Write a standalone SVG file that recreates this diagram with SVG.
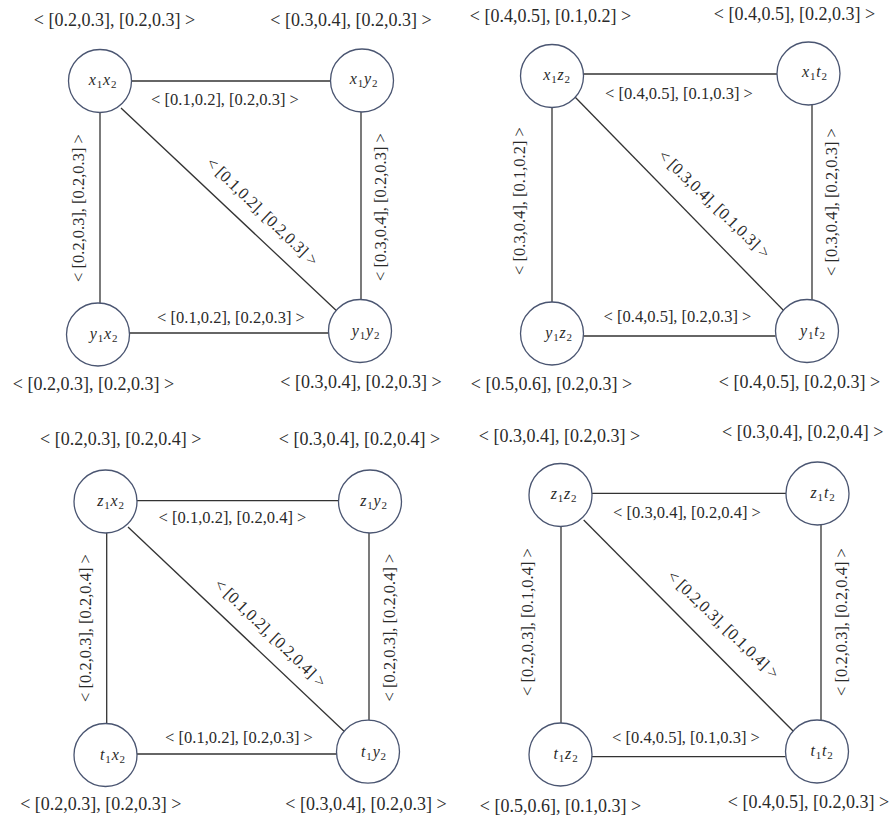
<svg xmlns="http://www.w3.org/2000/svg" width="894" height="821" viewBox="0 0 894 821">
<style>
.bg{fill:#ffffff}
circle{fill:#ffffff;stroke:#4a5571;stroke-width:1.3}
line{stroke:#333333;stroke-width:1.3}
.lb{font-family:"Liberation Serif",serif;font-size:18px;fill:#2a2a2a;text-anchor:middle}
.el{font-family:"Liberation Serif",serif;font-size:16.5px;fill:#2a2a2a;text-anchor:middle}
.nm{font-family:"Liberation Serif",serif;font-size:16px;font-style:italic;fill:#2a2a2a;text-anchor:middle;letter-spacing:0.8px}
.sb{font-size:11px;font-style:normal}
</style>
<rect class="bg" x="0" y="0" width="894" height="821"/>
<g id="connectors">
<!-- Q1 -->
<line x1="131.5" y1="81" x2="330" y2="81"/>
<line x1="100" y1="112.5" x2="100" y2="303"/>
<line x1="361" y1="112" x2="361" y2="300"/>
<line x1="129.5" y1="333" x2="328.5" y2="333"/>
<line x1="121" y1="108" x2="340" y2="314"/>
<text class="el" x="225" y="105">&lt; [0.1,0.2], [0.2,0.3] &gt;</text>
<text class="el" x="84" y="208" transform="rotate(-90 84 208)">&lt; [0.2,0.3], [0.2,0.3] &gt;</text>
<text class="el" x="386" y="207" transform="rotate(-90 386 207)">&lt; [0.3,0.4], [0.2,0.3] &gt;</text>
<text class="el" x="231" y="323">&lt; [0.1,0.2], [0.2,0.3] &gt;</text>
<text class="el" x="258.5" y="215.6" transform="rotate(44 258.5 215.6)">&lt; [0.1,0.2], [0.2,0.3] &gt;</text>
<!-- Q2 -->
<line x1="583.5" y1="74" x2="777" y2="74"/>
<line x1="552" y1="107.5" x2="552" y2="302"/>
<line x1="812" y1="105" x2="812" y2="300"/>
<line x1="583.5" y1="336" x2="775.5" y2="336"/>
<line x1="575" y1="97" x2="786" y2="313"/>
<text class="el" x="679" y="99">&lt; [0.4,0.5], [0.1,0.3] &gt;</text>
<text class="el" x="525" y="201" transform="rotate(-90 525 201)">&lt; [0.3,0.4], [0.1,0.2] &gt;</text>
<text class="el" x="837" y="202" transform="rotate(-90 837 202)">&lt; [0.3,0.4], [0.2,0.3] &gt;</text>
<text class="el" x="677.5" y="322">&lt; [0.4,0.5], [0.2,0.3] &gt;</text>
<text class="el" x="710.5" y="208" transform="rotate(44 710.5 208)">&lt; [0.3,0.4], [0.1,0.3] &gt;</text>
<!-- Q3 -->
<line x1="137" y1="500.7" x2="338.5" y2="500.7"/>
<line x1="106.7" y1="533" x2="106.7" y2="723.5"/>
<line x1="369" y1="533" x2="369" y2="720"/>
<line x1="137" y1="754" x2="337" y2="754"/>
<line x1="128" y1="527" x2="348" y2="735"/>
<text class="el" x="232.5" y="523">&lt; [0.1,0.2], [0.2,0.4] &gt;</text>
<text class="el" x="91" y="628" transform="rotate(-90 91 628)">&lt; [0.2,0.3], [0.2,0.4] &gt;</text>
<text class="el" x="395" y="627.5" transform="rotate(-90 395 627.5)">&lt; [0.2,0.3], [0.2,0.4] &gt;</text>
<text class="el" x="239" y="743">&lt; [0.1,0.2], [0.2,0.3] &gt;</text>
<text class="el" x="266.5" y="637" transform="rotate(44 266.5 637)">&lt; [0.1,0.2], [0.2,0.4] &gt;</text>
<!-- Q4 -->
<line x1="592" y1="493.3" x2="786" y2="493.3"/>
<line x1="561" y1="526.5" x2="561" y2="723"/>
<line x1="821" y1="525" x2="821" y2="720"/>
<line x1="592" y1="756.7" x2="785.5" y2="756.7"/>
<line x1="583.7" y1="520" x2="795.3" y2="733.3"/>
<text class="el" x="687" y="518">&lt; [0.3,0.4], [0.2,0.4] &gt;</text>
<text class="el" x="533" y="622" transform="rotate(-90 533 622)">&lt; [0.2,0.3], [0.1,0.4] &gt;</text>
<text class="el" x="847" y="622" transform="rotate(-90 847 622)">&lt; [0.2,0.3], [0.2,0.4] &gt;</text>
<text class="el" x="686" y="743">&lt; [0.4,0.5], [0.1,0.3] &gt;</text>
<text class="el" x="719.5" y="628.6" transform="rotate(44 719.5 628.6)">&lt; [0.2,0.3], [0.1,0.4] &gt;</text>
</g>
<!-- Q1 nodes -->
<g id="x1x2"><circle cx="100" cy="81" r="31.5"/><text class="nm" x="103" y="85">x<tspan class="sb" dy="3">1</tspan><tspan dy="-3">x</tspan><tspan class="sb" dy="3">2</tspan></text><text class="lb" x="114.5" y="26">&lt; [0.2,0.3], [0.2,0.3] &gt;</text></g>
<g id="x1y2"><circle cx="362" cy="80.5" r="31.5"/><text class="nm" x="364" y="84">x<tspan class="sb" dy="3">1</tspan><tspan dy="-3">y</tspan><tspan class="sb" dy="3">2</tspan></text><text class="lb" x="351" y="26">&lt; [0.3,0.4], [0.2,0.3] &gt;</text></g>
<g id="y1x2"><circle cx="98" cy="334.5" r="31.5"/><text class="nm" x="104" y="339">y<tspan class="sb" dy="3">1</tspan><tspan dy="-3">x</tspan><tspan class="sb" dy="3">2</tspan></text><text class="lb" x="93.5" y="390">&lt; [0.2,0.3], [0.2,0.3] &gt;</text></g>
<g id="y1y2"><circle cx="360" cy="331" r="31.5"/><text class="nm" x="366" y="336">y<tspan class="sb" dy="3">1</tspan><tspan dy="-3">y</tspan><tspan class="sb" dy="3">2</tspan></text><text class="lb" x="361" y="388">&lt; [0.3,0.4], [0.2,0.3] &gt;</text></g>
<!-- Q2 nodes -->
<g id="x1z2"><circle cx="552" cy="76" r="31.5"/><text class="nm" x="557" y="80">x<tspan class="sb" dy="3">1</tspan><tspan dy="-3">z</tspan><tspan class="sb" dy="3">2</tspan></text><text class="lb" x="550.5" y="22">&lt; [0.4,0.5], [0.1,0.2] &gt;</text></g>
<g id="x1t2"><circle cx="808.5" cy="73.5" r="31.5"/><text class="nm" x="815" y="77">x<tspan class="sb" dy="3">1</tspan><tspan dy="-3">t</tspan><tspan class="sb" dy="3">2</tspan></text><text class="lb" x="794.5" y="20">&lt; [0.4,0.5], [0.2,0.3] &gt;</text></g>
<g id="y1z2"><circle cx="552" cy="333.5" r="31.5"/><text class="nm" x="559" y="338">y<tspan class="sb" dy="3">1</tspan><tspan dy="-3">z</tspan><tspan class="sb" dy="3">2</tspan></text><text class="lb" x="551.5" y="390">&lt; [0.5,0.6], [0.2,0.3] &gt;</text></g>
<g id="y1t2"><circle cx="807" cy="331" r="31.5"/><text class="nm" x="813" y="336">y<tspan class="sb" dy="3">1</tspan><tspan dy="-3">t</tspan><tspan class="sb" dy="3">2</tspan></text><text class="lb" x="799.5" y="388">&lt; [0.4,0.5], [0.2,0.3] &gt;</text></g>
<!-- Q3 nodes -->
<g id="z1x2"><circle cx="105.5" cy="501.5" r="31.5"/><text class="nm" x="111" y="506">z<tspan class="sb" dy="3">1</tspan><tspan dy="-3">x</tspan><tspan class="sb" dy="3">2</tspan></text><text class="lb" x="120.7" y="445">&lt; [0.2,0.3], [0.2,0.4] &gt;</text></g>
<g id="z1y2"><circle cx="370" cy="501.5" r="31.5"/><text class="nm" x="374" y="506">z<tspan class="sb" dy="3">1</tspan><tspan dy="-3">y</tspan><tspan class="sb" dy="3">2</tspan></text><text class="lb" x="359.5" y="445">&lt; [0.3,0.4], [0.2,0.4] &gt;</text></g>
<g id="t1x2"><circle cx="105.5" cy="755" r="31.5"/><text class="nm" x="113" y="760">t<tspan class="sb" dy="3">1</tspan><tspan dy="-3">x</tspan><tspan class="sb" dy="3">2</tspan></text><text class="lb" x="100.8" y="810">&lt; [0.2,0.3], [0.2,0.3] &gt;</text></g>
<g id="t1y2"><circle cx="368" cy="751.7" r="31.5"/><text class="nm" x="374" y="757">t<tspan class="sb" dy="3">1</tspan><tspan dy="-3">y</tspan><tspan class="sb" dy="3">2</tspan></text><text class="lb" x="366" y="810">&lt; [0.3,0.4], [0.2,0.3] &gt;</text></g>
<!-- Q4 nodes -->
<g id="z1z2"><circle cx="560.5" cy="495" r="31.5"/><text class="nm" x="564" y="499">z<tspan class="sb" dy="3">1</tspan><tspan dy="-3">z</tspan><tspan class="sb" dy="3">2</tspan></text><text class="lb" x="559.5" y="442">&lt; [0.3,0.4], [0.2,0.3] &gt;</text></g>
<g id="z1t2"><circle cx="817.5" cy="493.5" r="31.5"/><text class="nm" x="823" y="498">z<tspan class="sb" dy="3">1</tspan><tspan dy="-3">t</tspan><tspan class="sb" dy="3">2</tspan></text><text class="lb" x="802.7" y="438">&lt; [0.3,0.4], [0.2,0.4] &gt;</text></g>
<g id="t1z2"><circle cx="560.5" cy="754.5" r="31.5"/><text class="nm" x="566" y="759">t<tspan class="sb" dy="3">1</tspan><tspan dy="-3">z</tspan><tspan class="sb" dy="3">2</tspan></text><text class="lb" x="560.5" y="812">&lt; [0.5,0.6], [0.1,0.3] &gt;</text></g>
<g id="t1t2"><circle cx="817" cy="751.5" r="31.5"/><text class="nm" x="822" y="756">t<tspan class="sb" dy="3">1</tspan><tspan dy="-3">t</tspan><tspan class="sb" dy="3">2</tspan></text><text class="lb" x="808.5" y="808">&lt; [0.4,0.5], [0.2,0.3] &gt;</text></g>
</svg>
